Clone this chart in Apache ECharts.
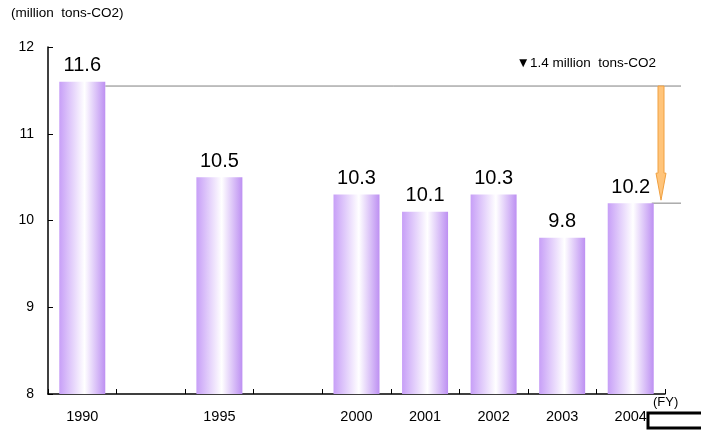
<!DOCTYPE html>
<html>
<head>
<meta charset="utf-8">
<script src="https://cdn.jsdelivr.net/npm/echarts@6/dist/echarts.min.js"></script>
<style>html,body{margin:0;padding:0;background:#fff}#c{width:701px;height:436px}</style>
</head>
<body>
<div id="c"></div>
<script>
const categories = ['1990', '', '1995', '', '2000', '2001', '2002', '2003', '2004'];
const values = [11.6, null, 10.5, null, 10.3, 10.1, 10.3, 9.8, 10.2];
const yTicks = [8, 9, 10, 11, 12];
const refTop = 11.55;
const refBottom = 10.2;
const reductionText = '▼1.4 million  tons-CO2';
const unitText = '(million  tons-CO2)';
const fyText = '(FY)';

const FONT = 'Liberation Sans';
const chart = echarts.init(document.getElementById('c'), null, {renderer: 'canvas'});
chart.setOption({
  animation: false,
  backgroundColor: '#fff',
  grid: {left: 48, right: 36, top: 47, bottom: 42},
  xAxis: {
    type: 'category',
    data: categories,
    axisLine: {lineStyle: {color: '#000', width: 1.5}},
    axisTick: {show: true, inside: true, length: 5, interval: 0, lineStyle: {color: '#000'}},
    axisLabel: {color: '#000', fontSize: 14.5, fontFamily: FONT, margin: 15, interval: 0}
  },
  yAxis: {
    type: 'value',
    min: yTicks[0], max: yTicks[yTicks.length - 1], interval: 1,
    axisLine: {show: true, lineStyle: {color: '#000', width: 1.5}},
    axisTick: {show: true, inside: true, length: 5, lineStyle: {color: '#000'}},
    splitLine: {show: false},
    axisLabel: {color: '#000', fontSize: 14, fontFamily: FONT, margin: 14}
  },
  series: [{
    type: 'bar',
    data: values,
    barWidth: 46,
    itemStyle: {
      color: new echarts.graphic.LinearGradient(0, 0, 1, 0, [
        {offset: 0, color: '#c79ff7'},
        {offset: 0.55, color: '#ffffff'},
        {offset: 1, color: '#bd90f2'}
      ])
    },
    label: {show: true, position: 'top', distance: 6, color: '#000', fontSize: 20, fontFamily: FONT}
  }]
});

const yTop = chart.convertToPixel({yAxisIndex: 0}, refTop);
const yBot = chart.convertToPixel({yAxisIndex: 0}, refBottom);
const x1990 = chart.convertToPixel({xAxisIndex: 0}, 0);
const x2004 = chart.convertToPixel({xAxisIndex: 0}, 8);
const ax = 661;
const headH = 30;
chart.setOption({
  graphic: [
    {type: 'text', left: 11, top: 6, style: {text: unitText, fontSize: 13.5, fontFamily: FONT, fill: '#000'}},
    {type: 'text', left: 653, top: 396, style: {text: fyText, fontSize: 13, fontFamily: FONT, fill: '#000'}},
    {type: 'text', right: 701 - 656, top: 56, style: {text: reductionText, fontSize: 13.5, fontFamily: FONT, fill: '#000'}},
    {type: 'line', shape: {x1: x1990 + 23, y1: yTop, x2: 681, y2: yTop}, style: {stroke: '#808080', lineWidth: 1}},
    {type: 'line', shape: {x1: x2004 + 21, y1: yBot, x2: 681, y2: yBot}, style: {stroke: '#808080', lineWidth: 1}},
    {type: 'polygon', shape: {points: [
      [ax - 3, yTop], [ax + 3, yTop], [ax + 3, yBot - headH], [ax + 5, yBot - headH],
      [ax, yBot - 3], [ax - 5, yBot - headH], [ax - 3, yBot - headH]
    ]}, style: {fill: '#ffc47a', stroke: '#f0a040', lineWidth: 1}},
    {type: 'rect', shape: {x: 648, y: 413, width: 60, height: 15}, style: {fill: '#fff', stroke: '#000', lineWidth: 3}}
  ]
});
</script>
</body>
</html>
